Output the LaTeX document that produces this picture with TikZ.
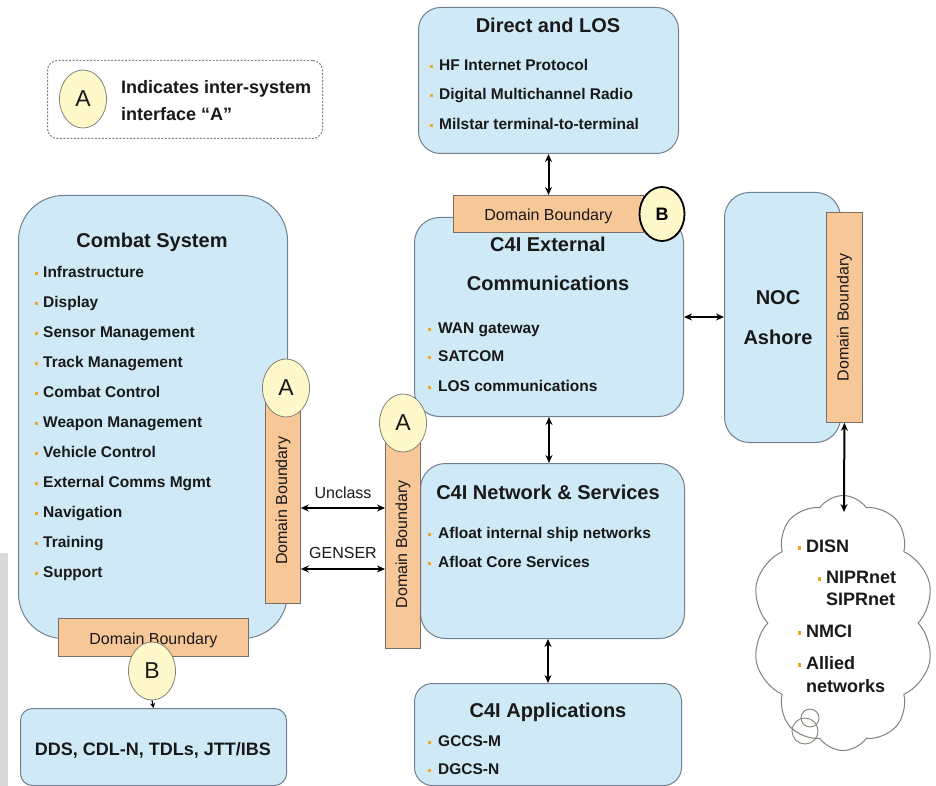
\documentclass[tikz,border=0pt]{standalone}
\usepackage{fontspec}
\setmainfont{Liberation Sans}
\usetikzlibrary{arrows.meta,shapes.symbols,shapes.geometric}
\definecolor{boxfill}{RGB}{207,233,247}
\definecolor{boxline}{RGB}{112,128,144}
\definecolor{dbfill}{RGB}{248,199,152}
\definecolor{dbline}{RGB}{120,110,100}
\definecolor{cfill}{RGB}{255,248,202}
\definecolor{cline}{RGB}{130,130,120}
\definecolor{txt}{RGB}{25,25,25}
\definecolor{bulc}{RGB}{240,165,40}
\definecolor{side}{RGB}{217,217,217}
\newcommand{\bul}{\textcolor{bulc}{\rule[0.3ex]{3pt}{3.5pt}}}
\begin{document}
\begin{tikzpicture}[x=1pt,y=-1pt,
  box/.style={draw=boxline, fill=boxfill, line width=1pt, anchor=north west, inner sep=0},
  dbox/.style={draw=dbline, fill=dbfill, line width=0.8pt, anchor=north west, inner sep=0},
  dbtext/.style={font=\fontsize{16}{18}\selectfont, text=txt, inner sep=0},
  circ/.style={ellipse, draw=cline, fill=cfill, line width=0.8pt, minimum width=47pt, minimum height=58pt, inner sep=0, font=\fontsize{23}{26}\selectfont, text=txt},
  ttl/.style={font=\fontsize{20}{24}\selectfont\bfseries, text=txt, inner sep=0, text height=14.5pt, text depth=0pt},
  itm/.style={font=\fontsize{15.5}{18}\selectfont\bfseries, text=txt, inner sep=0, anchor=west, text height=11pt, text depth=0pt},
  citm/.style={font=\fontsize{18}{21}\selectfont\bfseries, text=txt, inner sep=0, anchor=west, text height=13pt, text depth=0pt},
  lbl/.style={font=\fontsize{16}{18}\selectfont, text=txt, inner sep=0},
  dbl/.style={{Stealth[length=8pt,width=7pt]}-{Stealth[length=8pt,width=7pt]}, line width=2pt, black},
]
\useasboundingbox (0,0) rectangle (936,786);
\fill[white] (0,0) rectangle (936,786);
\fill[side] (0,553) rectangle (8,786);

% legend
\node[draw=gray, dash pattern=on 2pt off 1.5pt, rounded corners=10pt, line width=1pt, minimum width=275pt, minimum height=78pt, anchor=north west] (leg) at (47,60) {};
\node[circ] (la) at (83,99) {A};
\node[font=\fontsize{18}{27}\selectfont\bfseries, text=txt, anchor=west, align=left, inner sep=0] (legt) at (121,101) {Indicates inter-system\\interface “A”};

% combat system
\node[box, rounded corners=45pt, minimum width=269pt, minimum height=443pt] (cs) at (18,195) {};
\node[ttl] (cst) at (152,240) {Combat System};
\foreach \t [count=\i] in {Infrastructure, Display, Sensor Management, Track Management, Combat Control, Weapon Management, Vehicle Control, External Comms Mgmt, Navigation, Training, Support}
  \node[itm] (csi\i) at (35,242+30*\i) {\bul\hspace{5pt}\t};

\node[dbox, minimum width=35pt, minimum height=205pt] (dbl) at (265,398) {};
\node[dbtext, rotate=90] (dblt) at (dbl.center) {Domain Boundary};
\node[circ] (a1) at (286,388) {A};

\node[dbox, minimum width=190pt, minimum height=38pt] (dbb) at (58,618) {};
\node[dbtext] (dbbt) at ([yshift=-3pt]dbb.center) {Domain Boundary};
\node[circ] (cb) at (152,671) {B};

\node[box, rounded corners=12pt, minimum width=266pt, minimum height=77pt] (dds) at (20,708) {};
\node[font=\fontsize{18}{21}\selectfont\bfseries, text=txt, inner sep=0] (ddst) at (153,750) {DDS, CDL-N, TDLs, JTT/IBS};
\draw[-{Stealth[length=5pt,width=5pt]}, line width=1.2pt] (cb.south) -- (dds.north);

% Direct and LOS
\node[box, rounded corners=22pt, minimum width=260pt, minimum height=146pt] (dlos) at (418,7) {};
\node[ttl] (dlost) at (548,25) {Direct and LOS};
\node[itm] (dl1) at (430,65) {\bul\hspace{6pt}HF Internet Protocol};
\node[itm] (dl2) at (430,94) {\bul\hspace{6pt}Digital Multichannel Radio};
\node[itm] (dl3) at (430,124) {\bul\hspace{6pt}Milstar terminal-to-terminal};

% C4I External
\node[box, rounded corners=25pt, minimum width=269pt, minimum height=199pt] (ext) at (414,217) {};
\node[ttl] (ext1) at (548,244) {C4I External};
\node[ttl] (ext2) at (548,283) {Communications};
\node[itm] (ex1) at (428,328) {\bul\hspace{7pt}WAN gateway};
\node[itm] (ex2) at (428,356) {\bul\hspace{7pt}SATCOM};
\node[itm] (ex3) at (428,386) {\bul\hspace{7pt}LOS communications};

\node[dbox, minimum width=190pt, minimum height=37pt] (dbt) at (453,195) {};
\node[dbtext] (dbtt) at ([yshift=-2pt]dbt.center) {Domain Boundary};
\node[ellipse, draw=black, line width=1.8pt, fill=cfill, minimum width=45pt, minimum height=54pt, inner sep=0, font=\fontsize{18}{20}\selectfont\bfseries] (cbt) at (662,214) {B};
\draw[dbl] (dlos.south) -- (dlos.south |- dbt.north);

% C4I Network
\node[box, rounded corners=25pt, minimum width=264pt, minimum height=175pt] (net) at (420,463) {};
\node[ttl] (nett) at (548,492) {C4I Network \& Services};
\node[itm] (ne1) at (428,533) {\bul\hspace{7pt}Afloat internal ship networks};
\node[itm] (ne2) at (428,562) {\bul\hspace{7pt}Afloat Core Services};

\node[dbox, minimum width=35pt, minimum height=208pt] (dbm) at (385,440) {};
\node[dbtext, rotate=90] (dbmt) at (dbm.center) {Domain Boundary};
\node[circ] (a2) at (403,423) {A};

% C4I Applications
\node[box, rounded corners=18pt, minimum width=267pt, minimum height=102pt] (apps) at (414,683) {};
\node[ttl] (appst) at (548,710) {C4I Applications};
\node[itm] (ap1) at (428,741) {\bul\hspace{7pt}GCCS-M};
\node[itm] (ap2) at (428,769) {\bul\hspace{7pt}DGCS-N};

\draw[dbl] (ext.south) -- (ext.south |- net.north);
\draw[dbl] (apps.north |- net.south) -- (apps.north);

% Unclass / GENSER
\coordinate (u) at (340,508);
\coordinate (g) at (340,569);
\draw[dbl] (dbl.east |- u) -- (dbm.west |- u);
\draw[dbl] (dbl.east |- g) -- (dbm.west |- g);
\node[lbl] (unl) at (343,493) {Unclass};
\node[lbl] (gnl) at (343,553) {GENSER};

% NOC
\node[box, rounded corners=25pt, minimum width=116pt, minimum height=250pt] (noc) at (724,192) {};
\node[font=\fontsize{20}{40}\selectfont\bfseries, text=txt, inner sep=0, align=center] (noct) at (778,318) {NOC\\Ashore};
\node[dbox, minimum width=36pt, minimum height=210pt] (dbn) at (826,212) {};
\node[dbtext, rotate=90] (dbnt) at (dbn.center) {Domain Boundary};
\draw[dbl] (ext.east) -- (ext.east -| noc.west);

% cloud
\node[cloud, cloud puffs=10, cloud puff arc=110, cloud ignores aspect, draw=cline, line width=1pt, fill=white, minimum width=182pt, minimum height=255pt] (cloud) at (843,623) {};
\draw[cline, line width=0.9pt] (810,718) circle (9pt);
\draw[cline, line width=0.9pt] (805,731) circle (13pt);
\coordinate (ctop) at (844,512);
\draw[dbl] (dbn.south) -- (ctop);
\node[citm] (cl1) at (798,546) {\bul\hspace{5pt}DISN};
\node[citm] (cl2) at (818,577) {\bul\hspace{5pt}NIPRnet};
\node[citm] (cl3) at (826,599) {SIPRnet};
\node[citm] (cl4) at (798,631) {\bul\hspace{5pt}NMCI};
\node[citm] (cl5) at (798,663) {\bul\hspace{5pt}Allied};
\node[citm] (cl6) at (806,686) {networks};
\end{tikzpicture}
\end{document}
